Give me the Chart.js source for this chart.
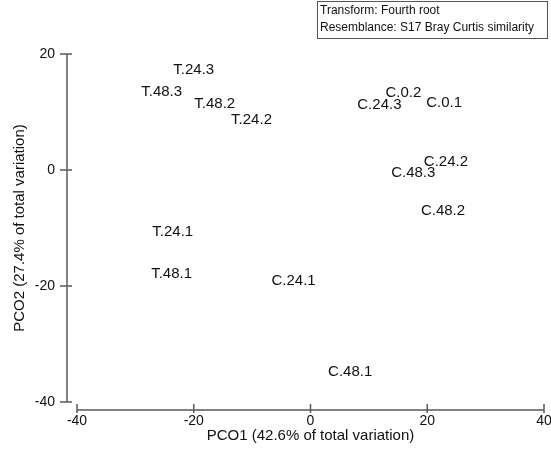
<!DOCTYPE html>
<html>
<head>
<meta charset="utf-8">
<script src="https://cdn.jsdelivr.net/npm/chart.js@4"></script>
<style>
  html, body { margin: 0; padding: 0; background: #fff; }
  #wrap { width: 551px; height: 454px; }
</style>
</head>
<body>
<div id="wrap"><canvas id="pco"></canvas></div>
<script>
// sample names and PCO scores
const sampleNames = ['T.24.3', 'T.48.3', 'T.48.2', 'T.24.2', 'C.0.2', 'C.24.3', 'C.0.1',
    'C.24.2', 'C.48.3', 'C.48.2', 'T.24.1', 'T.48.1', 'C.24.1', 'C.48.1'];
const pco1 = [-20.0, -25.5, -16.4, -10.1, 15.9, 11.8, 22.9, 23.2, 17.6, 22.7, -23.6, -23.8, -2.9, 6.8];
const pco2 = [17.2, 13.4, 11.4, 8.6, 13.3, 11.3, 11.6, 1.4, -0.5, -7.0, -10.7, -17.9, -19.1, -34.8];
const xTicks = [-40, -20, 0, 20, 40];
const yTicks = [-40, -20, 0, 20];
const infoLines = ['Transform: Fourth root', 'Resemblance: S17 Bray Curtis similarity'];

const FONT = '"Liberation Sans", Arial, sans-serif';
const AXIS_COLOR = '#5a5a5a';

// подписи точек вместо маркеров
const sampleLabels = {
    id: 'sampleLabels',
    afterDatasetsDraw(chart) {
        const ctx = chart.ctx;
        const meta = chart.getDatasetMeta(0);
        ctx.save();
        ctx.font = '15px ' + FONT;
        ctx.fillStyle = '#111';
        ctx.textAlign = 'center';
        ctx.textBaseline = 'middle';
        meta.data.forEach((pt, i) => {
            ctx.fillText(sampleNames[i], pt.x, pt.y);
        });
        ctx.restore();
    }
};

// отдельные оси со штрихами, как в PRIMER
const detachedAxes = {
    id: 'detachedAxes',
    afterDraw(chart) {
        const ctx = chart.ctx;
        const xs = chart.scales.x, ys = chart.scales.y;
        const axisY = chart.chartArea.bottom + 8;
        const axisX = chart.chartArea.left - 10;
        ctx.save();
        ctx.strokeStyle = AXIS_COLOR;
        ctx.lineWidth = 1.5;
        ctx.beginPath();
        ctx.moveTo(xs.getPixelForValue(xTicks[0]), axisY);
        ctx.lineTo(xs.getPixelForValue(xTicks[xTicks.length - 1]), axisY);
        xTicks.forEach(v => {
            const px = xs.getPixelForValue(v);
            ctx.moveTo(px, axisY - 6);
            ctx.lineTo(px, axisY + 3);
        });
        ctx.moveTo(axisX, ys.getPixelForValue(yTicks[0]));
        ctx.lineTo(axisX, ys.getPixelForValue(yTicks[yTicks.length - 1]));
        yTicks.forEach(v => {
            const py = ys.getPixelForValue(v);
            ctx.moveTo(axisX - 7, py);
            ctx.lineTo(axisX + 5, py);
        });
        ctx.stroke();

        // рамка с параметрами преобразования
        ctx.lineWidth = 1;
        ctx.strokeStyle = '#555';
        ctx.strokeRect(317.5, 1.5, 230, 37);
        ctx.font = '12px ' + FONT;
        ctx.fillStyle = '#111';
        ctx.textAlign = 'left';
        ctx.textBaseline = 'middle';
        ctx.fillText(infoLines[0], 320, 11);
        ctx.fillText(infoLines[1], 320, 28);
        ctx.restore();
    }
};

const points = pco1.map((v, i) => ({ x: v, y: pco2[i] }));

new Chart(document.getElementById('pco'), {
    type: 'scatter',
    data: {
        datasets: [{
            data: points,
            pointRadius: 0,
            pointHoverRadius: 0
        }]
    },
    options: {
        responsive: true,
        maintainAspectRatio: false,
        animation: false,
        events: [],
        layout: { padding: { top: 54, right: 7, bottom: 0, left: 0 } },
        plugins: { legend: { display: false }, tooltip: { enabled: false } },
        scales: {
            x: {
                type: 'linear',
                min: -40, max: 40,
                afterBuildTicks: s => { s.ticks = xTicks.map(v => ({ value: v })); },
                afterFit: s => { s.height = 52; s.paddingLeft = 0; s.paddingRight = 0; },
                grid: { display: false, drawTicks: false },
                border: { display: false },
                ticks: { padding: 11, color: '#111', font: { family: FONT, size: 14 }, maxRotation: 0 },
                title: {
                    display: true,
                    text: 'PCO1 (42.6% of total variation)',
                    color: '#111',
                    font: { family: FONT, size: 15 },
                    padding: { top: 0, bottom: 9 }
                }
            },
            y: {
                type: 'linear',
                min: -40, max: 20,
                afterBuildTicks: s => { s.ticks = yTicks.map(v => ({ value: v })); },
                afterFit: s => { s.width = 77; s.paddingTop = 0; s.paddingBottom = 0; },
                grid: { display: false, drawTicks: false },
                border: { display: false },
                ticks: { padding: 22, color: '#111', font: { family: FONT, size: 14 } },
                title: {
                    display: true,
                    text: 'PCO2 (27.4% of total variation)',
                    color: '#111',
                    font: { family: FONT, size: 15 },
                    padding: { top: 11, bottom: 0 }
                }
            }
        }
    },
    plugins: [sampleLabels, detachedAxes]
});
</script>
</body>
</html>
